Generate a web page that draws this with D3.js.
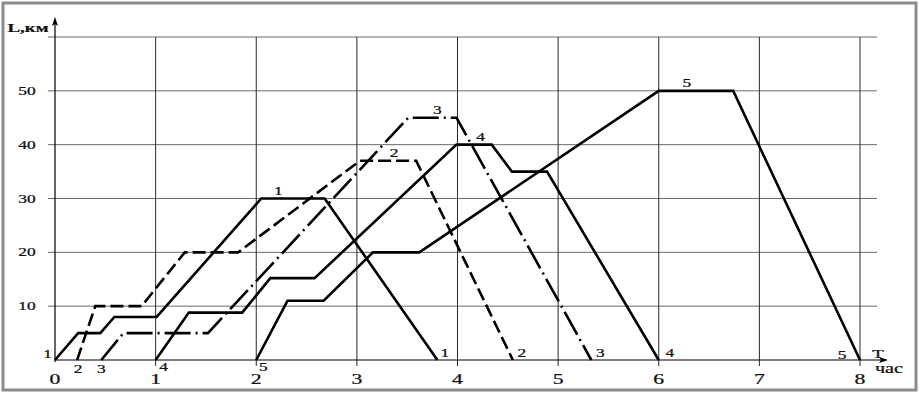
<!DOCTYPE html>
<html lang="ru">
<head>
    <meta charset="UTF-8">
    <title>L(T)</title>
    <script src="https://cdn.jsdelivr.net/npm/d3@7/dist/d3.min.js"></script>
    <style>
        body { margin: 0; background: white; }
        svg text { font-family: "Liberation Serif", "DejaVu Serif", serif; fill: #111; stroke: #111; stroke-width: 0.25; }
        .grid-h { stroke: #6a6a6a; stroke-width: 1; }
        .grid-v { stroke: #2a2a2a; stroke-width: 1; }
        .route { fill: none; stroke: #000; stroke-width: 2.6; stroke-linejoin: miter; }
    </style>
</head>
<body>
<svg id="chart" width="920" height="393"></svg>
<script>
    // route points: [time, distance]
    var route1 = [[0, 0], [0.23, 5], [0.45, 5], [0.59, 8], [1.01, 8], [2.05, 30], [2.68, 30], [3.8, 0]];
    var route2 = [[0.22, 0], [0.4, 10], [0.86, 10], [1.29, 20], [1.82, 20], [3.03, 37], [3.59, 37], [4.55, 0]];
    var route3 = [[0.46, 0], [0.68, 5], [1.52, 5], [3.51, 45], [3.99, 45], [5.33, 0]];
    var route4 = [[1, 0], [1.33, 8.8], [1.86, 8.8], [2.14, 15.2], [2.58, 15.2], [3.99, 40], [4.34, 40], [4.54, 35], [4.89, 35], [6, 0]];
    var route5 = [[2, 0], [2.31, 11], [2.67, 11], [3.16, 20], [3.62, 20], [6, 50], [6.74, 50], [8, 0]];

    var routeNames = ["1", "2", "3", "4", "5"];
    var xTicks = [0, 1, 2, 3, 4, 5, 6, 7, 8];
    var yTicks = [10, 20, 30, 40, 50];
    var topLabelT = [2.22, 3.37, 3.8, 4.23, 6.28];

    var routes = [route1, route2, route3, route4, route5];
    var dashes = [null, "13,5", "26,5,2,5", null, null];

    var svg = d3.select("#chart");

    var x = d3.scaleLinear().domain([0, 8]).range([55, 860]);
    var y = d3.scaleLinear().domain([0, 60]).range([360, 37]);

    // frame
    svg.append("rect")
        .attr("x", 3).attr("y", 3)
        .attr("width", 913).attr("height", 387)
        .attr("fill", "none")
        .attr("stroke", "#8c8c8c")
        .attr("stroke-width", 3);

    function txt(s, px, py, size, weight) {
        svg.append("text")
            .attr("transform", "translate(" + px + "," + py + ") scale(1.45,1)")
            .attr("text-anchor", "middle")
            .style("font-size", size + "px")
            .style("font-weight", weight || "normal")
            .text(s);
    }

    // grid
    svg.selectAll("line.grid-h")
        .data(yTicks.concat([60]))
        .enter()
        .append("line")
        .attr("class", "grid-h")
        .attr("x1", 48).attr("x2", 877)
        .attr("y1", function(d) { return y(d); })
        .attr("y2", function(d) { return y(d); });

    svg.selectAll("line.grid-v")
        .data(xTicks.slice(1))
        .enter()
        .append("line")
        .attr("class", "grid-v")
        .attr("x1", function(d) { return x(d); })
        .attr("x2", function(d) { return x(d); })
        .attr("y1", y(60)).attr("y2", y(0) + 6);

    // axes with arrows
    svg.append("line")
        .attr("x1", x(0)).attr("x2", 886)
        .attr("y1", y(0)).attr("y2", y(0))
        .attr("stroke", "#000").attr("stroke-width", 1.2);
    svg.append("path")
        .attr("d", "M888," + y(0) + " l-9,-3 l2,3 l-2,3 z")
        .attr("fill", "#000");

    svg.append("line")
        .attr("x1", x(0)).attr("x2", x(0))
        .attr("y1", y(0) + 2).attr("y2", 20)
        .attr("stroke", "#000").attr("stroke-width", 1.2);
    svg.append("path")
        .attr("d", "M" + x(0) + ",17 l-3,9 l3,-2 l3,2 z")
        .attr("fill", "#000");

    // tick labels
    yTicks.forEach(function(d) {
        txt(String(d), 27, y(d) + 4, 12);
    });
    xTicks.forEach(function(d) {
        txt(String(d), x(d), 384, 15);
    });

    txt("L,км", 28, 32, 13, "bold");
    txt("T", 878, 358, 13);
    txt("час", 889, 373, 14);

    // routes
    var line = d3.line()
        .x(function(d) { return x(d[0]); })
        .y(function(d) { return y(d[1]); });

    svg.selectAll("path.route")
        .data(routes)
        .enter()
        .append("path")
        .attr("class", "route")
        .attr("d", line)
        .attr("stroke-dasharray", function(d, i) { return dashes[i]; });

    // route numbers at start, end and top
    var startOff = [[-7.5, -2], [1, 13], [0, 13], [8, 11], [7, 11]];
    var endOff = [[7.5, -3], [9, -3], [9, -3], [11, -3], [-18, -1]];

    routes.forEach(function(r, i) {
        var first = r[0], last = r[r.length - 1];
        var peak = d3.max(r, function(d) { return d[1]; });
        txt(routeNames[i], x(first[0]) + startOff[i][0], y(0) + startOff[i][1], 12);
        txt(routeNames[i], x(last[0]) + endOff[i][0], y(0) + endOff[i][1], 12);
        txt(routeNames[i], x(topLabelT[i]), y(peak) - 4, 12);
    });
</script>
</body>
</html>
